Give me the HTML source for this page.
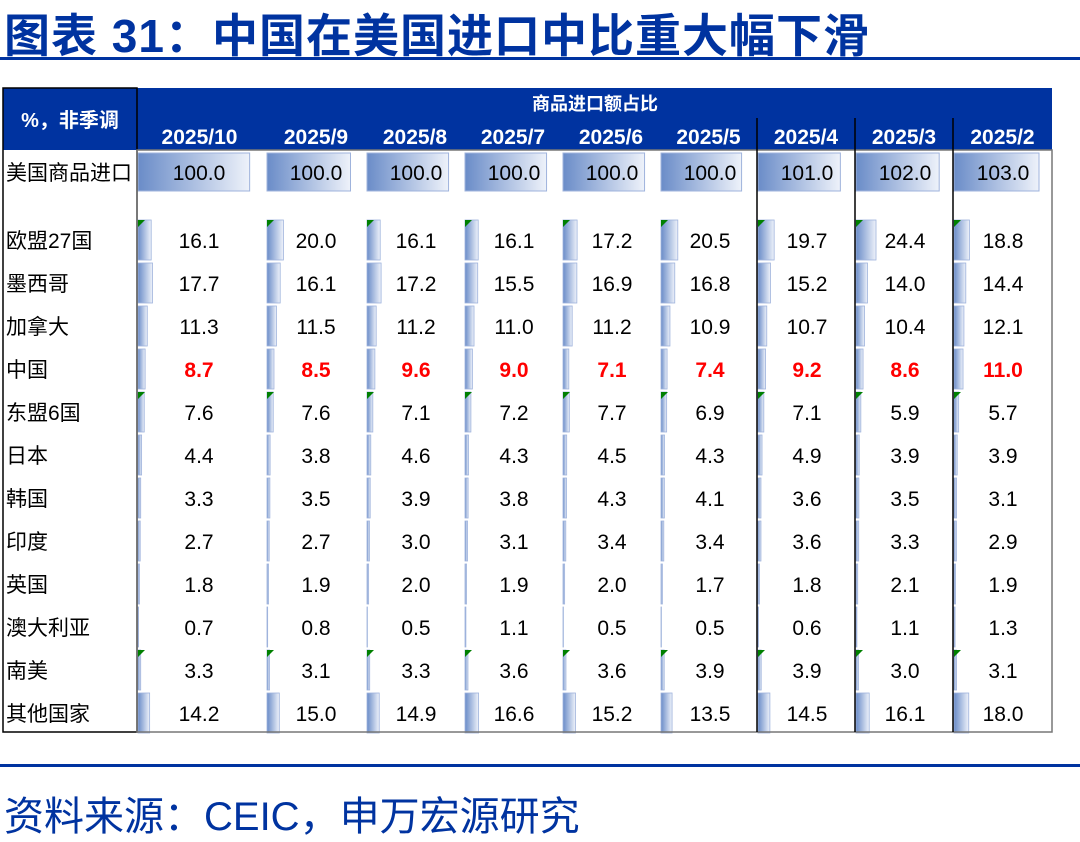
<!DOCTYPE html>
<html><head><meta charset="utf-8"><style>
body{margin:0;width:1080px;height:836px;background:#fff;position:relative;overflow:hidden;font-family:"Liberation Sans","Noto Sans CJK SC",sans-serif}
.a{position:absolute}
</style></head><body>
<div class="a" style="left:4px;top:0px;font-size:46px;font-weight:bold;color:#0033a0;white-space:nowrap;letter-spacing:1px">图表 31：中国在美国进口中比重大幅下滑</div>
<div class="a" style="left:0;top:57px;width:1080px;height:3px;background:#0033a0"></div>
<svg class="a" style="left:0;top:0" width="1080" height="836">
<defs><linearGradient id="g" x1="0" x2="1"><stop offset="0" stop-color="#6a8cc8"/><stop offset="1" stop-color="#eef2fa"/></linearGradient></defs>
<g id="tbl"></g>
</svg>
<div class="a" style="left:0;top:764px;width:1080px;height:3px;background:#0033a0"></div>
<div class="a" style="left:4px;top:784px;font-size:40px;color:#0033a0;white-space:nowrap">资料来源：CEIC，申万宏源研究</div>
<script>
const months=["2025/10","2025/9","2025/8","2025/7","2025/6","2025/5","2025/4","2025/3","2025/2"];
const totals=[100.0,100.0,100.0,100.0,100.0,100.0,101.0,102.0,103.0];
const rows=["欧盟27国","墨西哥","加拿大","中国","东盟6国","日本","韩国","印度","英国","澳大利亚","南美","其他国家"];
const values=[
[16.1,20.0,16.1,16.1,17.2,20.5,19.7,24.4,18.8],
[17.7,16.1,17.2,15.5,16.9,16.8,15.2,14.0,14.4],
[11.3,11.5,11.2,11.0,11.2,10.9,10.7,10.4,12.1],
[8.7,8.5,9.6,9.0,7.1,7.4,9.2,8.6,11.0],
[7.6,7.6,7.1,7.2,7.7,6.9,7.1,5.9,5.7],
[4.4,3.8,4.6,4.3,4.5,4.3,4.9,3.9,3.9],
[3.3,3.5,3.9,3.8,4.3,4.1,3.6,3.5,3.1],
[2.7,2.7,3.0,3.1,3.4,3.4,3.6,3.3,2.9],
[1.8,1.9,2.0,1.9,2.0,1.7,1.8,2.1,1.9],
[0.7,0.8,0.5,1.1,0.5,0.5,0.6,1.1,1.3],
[3.3,3.1,3.3,3.6,3.6,3.9,3.9,3.0,3.1],
[14.2,15.0,14.9,16.6,15.2,13.5,14.5,16.1,18.0]];
const flagged=[0,4,10];
const NS="http://www.w3.org/2000/svg";
const g=document.getElementById('tbl');
function mk(t,a,txt){const e=document.createElementNS(NS,t);for(const k in a)e.setAttribute(k,a[k]);if(txt!==undefined)e.textContent=txt;g.appendChild(e);return e;}
const colX=[137,266,366,464,562,660,757,855,953,1052];
const rowY=i=>240+i*43.0;
const px=v=>v*0.82;
let e;
e=mk('rect',{x:137,y:88,width:915,height:62,fill:'#0033a0'});


e=mk('rect',{x:3,y:88,width:134,height:62,fill:'#0033a0'});


e=mk('text',{x:70,y:127,fill:'#fff','font-size':20,'font-weight':'bold','text-anchor':'middle'},'%，非季调');


e=mk('text',{x:595,y:110,fill:'#fff','font-size':18,'font-weight':'bold','text-anchor':'middle'},'商品进口额占比');


months.forEach((m,c)=>{
 const x0=colX[c],w=colX[c+1]-x0,cx=x0+w/2+(c==0?-2:0);
 e=mk('text',{x:cx,y:144,fill:'#fff','font-size':21,'font-weight':'bold','text-anchor':'middle'},m);
 
 
 const bw=(w-14)*totals[c]/103;
 e=mk('rect',{x:x0+1,y:153,width:bw,height:38,fill:'url(#g)',stroke:'#9fb3dc'});
 
 
 e=mk('text',{x:x0+(c==0?62:50),y:180,'font-size':21,'text-anchor':'middle'},totals[c].toFixed(1));
 
 
 rows.forEach((r,i)=>{
  const y=rowY(i),v=values[i][c];
  e=mk('rect',{x:x0+1,y:y-20,width:px(v),height:40,fill:'url(#g)',stroke:'#9fb3dc','stroke-width':0.8});
  
  
  if(flagged.includes(i)){e=mk('polygon',{points:`${x0+1},${y-20} ${x0+8},${y-20} ${x0+1},${y-13}`,fill:'#008000'});
   
   }
  const china=i==3;
  e=mk('text',{x:x0+(c==0?62:50),y:y+8,'font-size':21,'text-anchor':'middle',fill:china?'#ff0000':'#000','font-weight':china?'bold':'normal'},v.toFixed(1));
  
  
 });
});
e=mk('rect',{x:3,y:88,width:134,height:644,fill:'none',stroke:'#000','stroke-width':1.5});


e=mk('rect',{x:137,y:150,width:915,height:582,fill:'none',stroke:'#777','stroke-width':1.5});


[757,855,953].forEach(x=>{e=mk('line',{x1:x,x2:x,y1:118,y2:732,stroke:'#000','stroke-width':1.5});

});
e=mk('text',{x:6,y:180,'font-size':21,fill:'#000'},'美国商品进口');


rows.forEach((r,i)=>{e=mk('text',{x:6,y:rowY(i)+8,'font-size':21},r);
 
 });
</script>
</body></html>
